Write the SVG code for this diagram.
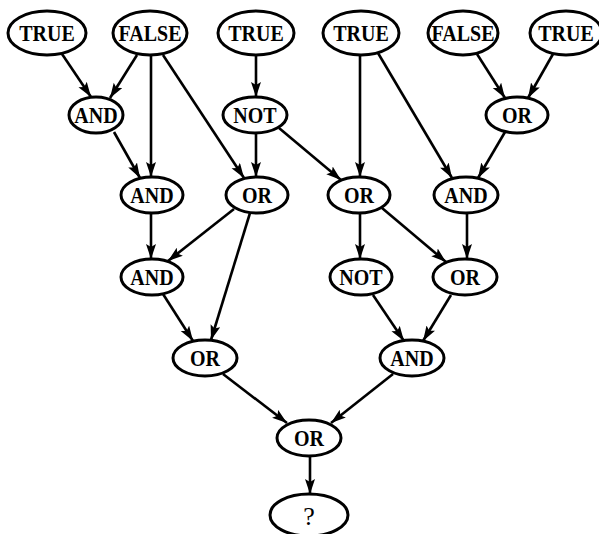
<svg xmlns="http://www.w3.org/2000/svg" width="599" height="534" viewBox="0 0 599 534">
<defs>
<marker id="arr" markerUnits="userSpaceOnUse" markerWidth="16" markerHeight="12" refX="15" refY="5" orient="auto">
<path d="M0,0 L15,5 L0,10 L3,5 z" fill="#000"/>
</marker>
<style>
ellipse{fill:#fff;stroke:#000;stroke-width:3}
text{font-family:"Liberation Serif","Times New Roman",serif;font-weight:bold;font-size:20px;text-anchor:middle;fill:#000}
text.q{font-weight:normal;font-size:26px}
#edges line{stroke:#000;stroke-width:2.6;marker-end:url(#arr)}
</style>
</defs>
<rect width="599" height="534" fill="#fff"/>
<g id="edges">
<line x1="62" y1="54" x2="91" y2="97"/>
<line x1="137" y1="55" x2="110" y2="98"/>
<line x1="151" y1="56" x2="151" y2="177"/>
<line x1="163" y1="55" x2="244" y2="178"/>
<line x1="256" y1="55" x2="256" y2="97"/>
<line x1="256" y1="133" x2="256" y2="177"/>
<line x1="279" y1="128" x2="341" y2="180"/>
<line x1="360" y1="55" x2="360" y2="177"/>
<line x1="378" y1="53" x2="452" y2="178"/>
<line x1="477" y1="54" x2="505" y2="98"/>
<line x1="553" y1="54" x2="528" y2="98"/>
<line x1="505" y1="132" x2="478" y2="178"/>
<line x1="114" y1="132" x2="140" y2="178"/>
<line x1="151" y1="213" x2="151" y2="259"/>
<line x1="234" y1="209" x2="168" y2="261"/>
<line x1="250" y1="213" x2="211" y2="340"/>
<line x1="360" y1="213" x2="360" y2="259"/>
<line x1="382" y1="208" x2="446" y2="262"/>
<line x1="467" y1="213" x2="467" y2="259"/>
<line x1="163" y1="294" x2="193" y2="341"/>
<line x1="373" y1="295" x2="404" y2="341"/>
<line x1="451" y1="295" x2="423" y2="341"/>
<line x1="223" y1="374" x2="287" y2="423"/>
<line x1="393" y1="374" x2="331" y2="423"/>
<line x1="310" y1="457" x2="310" y2="494"/>
</g>
<g id="n_true1"><ellipse cx="47" cy="33" rx="39" ry="22"/><text transform="translate(47,41) scale(1,1.15)">TRUE</text></g>
<g id="n_false1"><ellipse cx="150" cy="33" rx="37" ry="22"/><text transform="translate(150,41) scale(1,1.15)">FALSE</text></g>
<g id="n_true2"><ellipse cx="256" cy="33" rx="38" ry="22"/><text transform="translate(256,41) scale(1,1.15)">TRUE</text></g>
<g id="n_true3"><ellipse cx="361" cy="33" rx="38" ry="22"/><text transform="translate(361,41) scale(1,1.15)">TRUE</text></g>
<g id="n_false2"><ellipse cx="463" cy="33" rx="35" ry="22"/><text transform="translate(463,41) scale(1,1.15)">FALSE</text></g>
<g id="n_true4"><ellipse cx="566" cy="33" rx="36" ry="22"/><text transform="translate(566,41) scale(1,1.15)">TRUE</text></g>
<g id="n_and1"><ellipse cx="96" cy="115" rx="27" ry="18"/><text transform="translate(96,122.5) scale(1,1.15)">AND</text></g>
<g id="n_not1"><ellipse cx="255" cy="115" rx="32" ry="18"/><text transform="translate(255,122.5) scale(1,1.15)">NOT</text></g>
<g id="n_or1"><ellipse cx="517" cy="115" rx="31" ry="18"/><text transform="translate(517,122.5) scale(1,1.15)">OR</text></g>
<g id="n_and2"><ellipse cx="152" cy="195" rx="31" ry="18"/><text transform="translate(152,202.5) scale(1,1.15)">AND</text></g>
<g id="n_or2"><ellipse cx="257" cy="195" rx="31" ry="18"/><text transform="translate(257,202.5) scale(1,1.15)">OR</text></g>
<g id="n_or3"><ellipse cx="359" cy="195" rx="31" ry="18"/><text transform="translate(359,202.5) scale(1,1.15)">OR</text></g>
<g id="n_and3"><ellipse cx="466" cy="195" rx="32" ry="18"/><text transform="translate(466,202.5) scale(1,1.15)">AND</text></g>
<g id="n_and4"><ellipse cx="152" cy="277" rx="31" ry="18"/><text transform="translate(152,284.5) scale(1,1.15)">AND</text></g>
<g id="n_not2"><ellipse cx="361" cy="277" rx="31" ry="18"/><text transform="translate(361,284.5) scale(1,1.15)">NOT</text></g>
<g id="n_or4"><ellipse cx="465" cy="277" rx="32" ry="18"/><text transform="translate(465,284.5) scale(1,1.15)">OR</text></g>
<g id="n_or5"><ellipse cx="205" cy="358" rx="32" ry="18"/><text transform="translate(205,365.5) scale(1,1.15)">OR</text></g>
<g id="n_and5"><ellipse cx="412" cy="358" rx="32" ry="18"/><text transform="translate(412,365.5) scale(1,1.15)">AND</text></g>
<g id="n_or6"><ellipse cx="309" cy="438" rx="32" ry="18"/><text transform="translate(309,445.5) scale(1,1.15)">OR</text></g>
<g id="n_q"><ellipse cx="309" cy="515" rx="39" ry="21"/><text class="q" transform="translate(309,525)">?</text></g>
</svg>
